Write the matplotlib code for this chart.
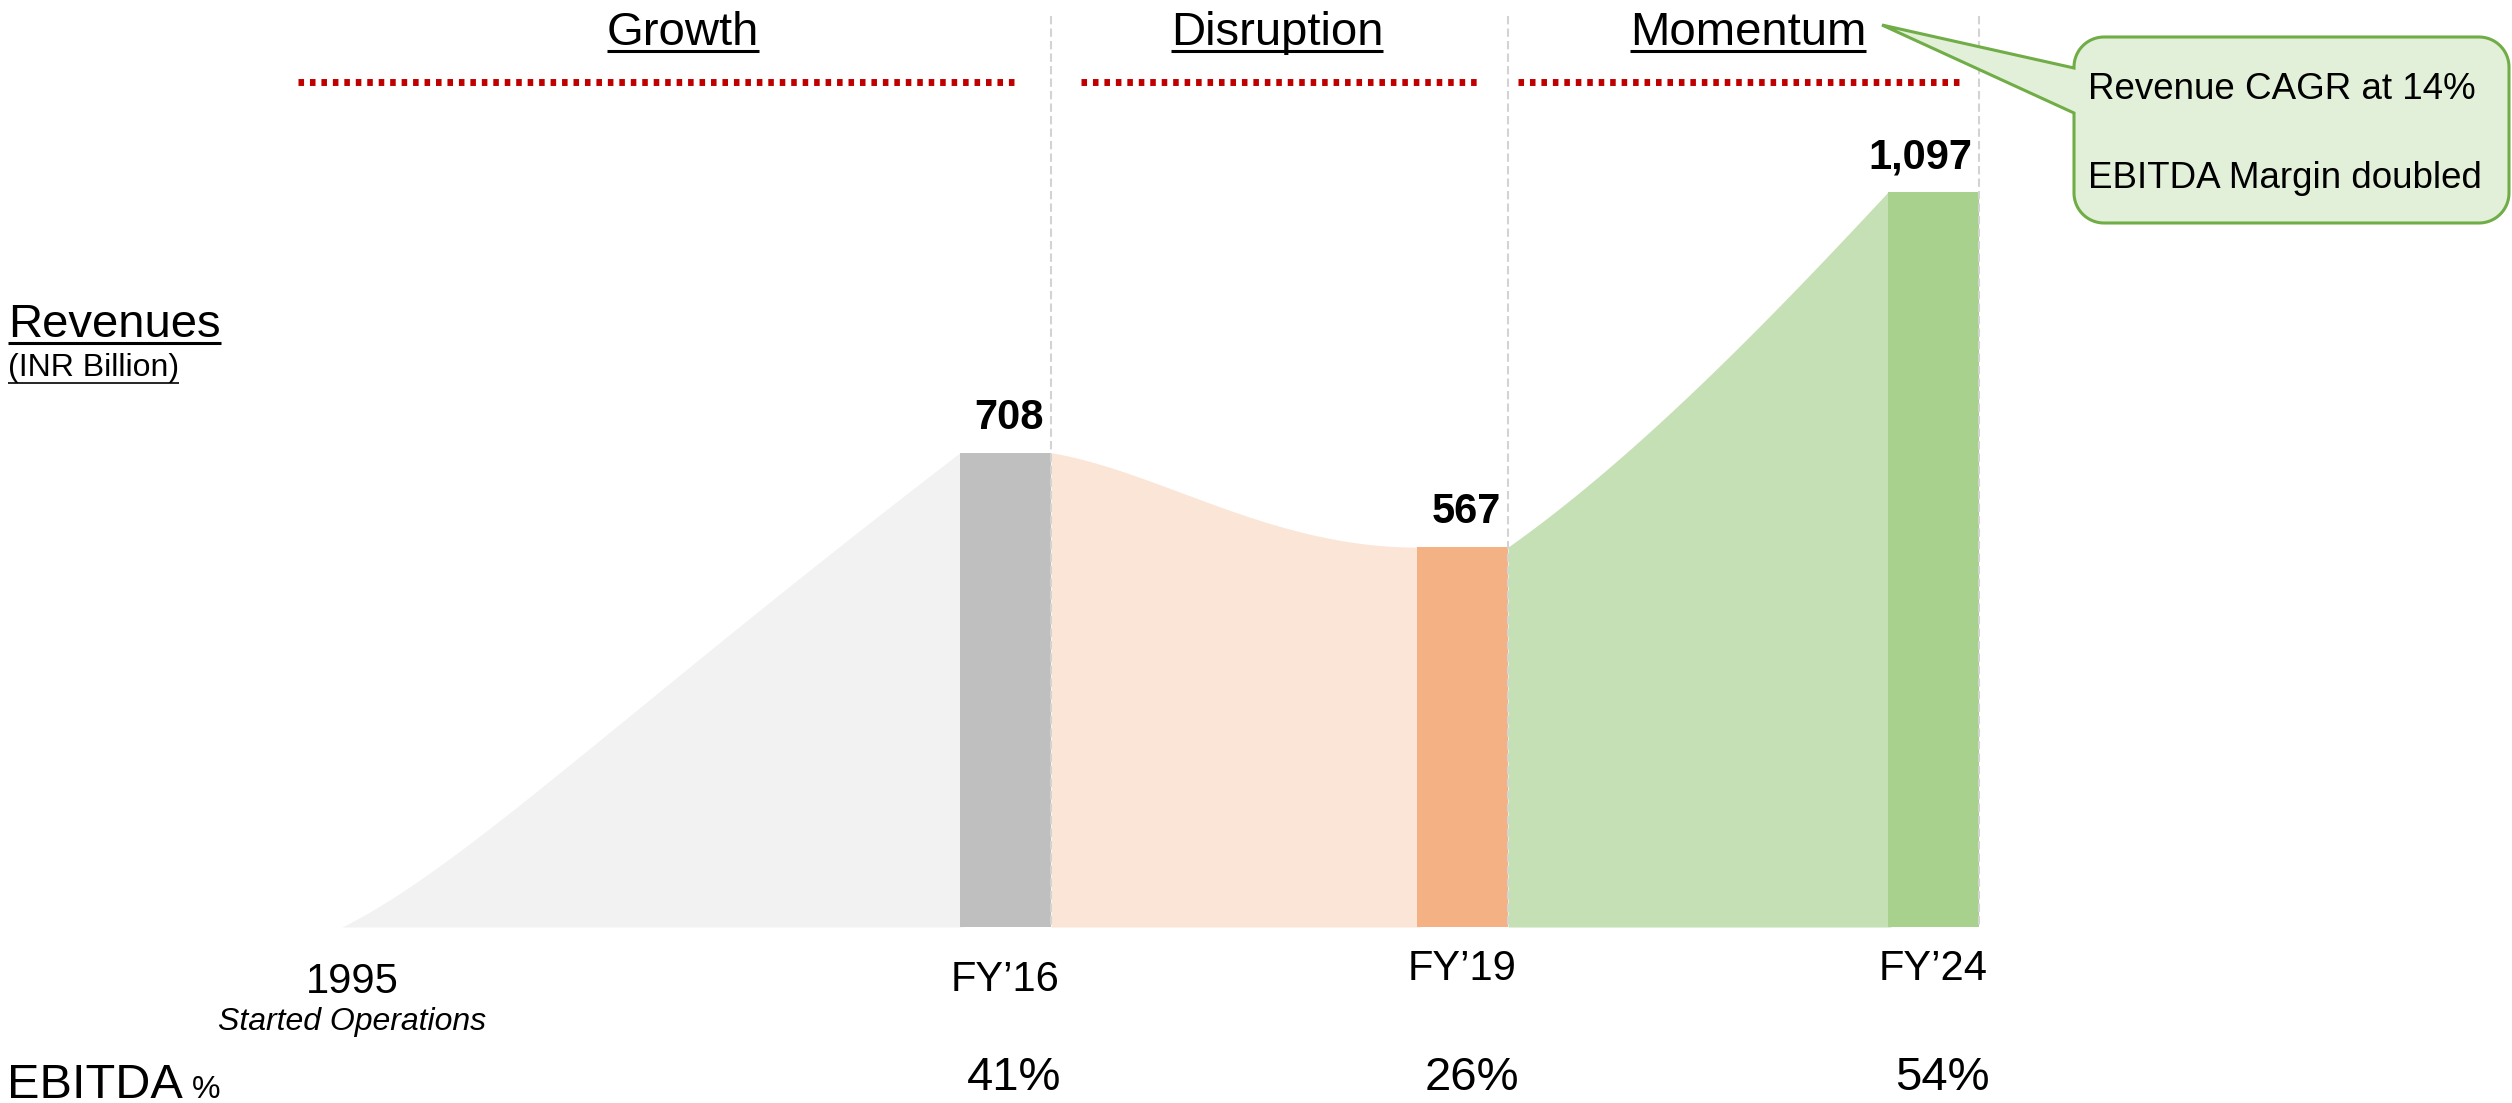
import numpy as np
import matplotlib
matplotlib.use("Agg")
import matplotlib.pyplot as plt
from matplotlib.patches import Polygon

plt.rcParams['font.family'] = ['Liberation Sans', 'DejaVu Sans']

# ---------------- data ----------------
periods = ["Growth", "Disruption", "Momentum"]
x_labels = ["1995", "FY\u201916", "FY\u201919", "FY\u201924"]
start_note = "Started Operations"
revenue = [0, 708, 567, 1097]            # INR Billion (1995 start = 0)
revenue_labels = ["708", "567", "1,097"]
ebitda_labels = ["41%", "26%", "54%"]
callout_lines = ["Revenue CAGR at 14%", "EBITDA Margin doubled"]

# ---------------- layout (pixels) ----------------
W, H = 2512, 1103
BASE = 927             # baseline pixel row
K = 0.67               # px per INR bn
start_x = 342
bar_left = [960, 1417, 1888]
bar_w = 91
bar_colors = ["#BFBFBF", "#F4B183", "#A9D18E"]
area_colors = ["#F2F2F2", "#FBE5D6", "#C5E0B4"]
# normalized bezier control points for each connecting area
area_ctrl = [((0.2, 0.13), (0.45, 0.45)),
             ((0.3, 0.2), (0.6, 1.0)),
             ((0.33, 0.25), (0.67, 0.62))]
title_cx = [683, 1277, 1748]
red_spans = [(298, 1014), (1081, 1477), (1518, 1962)]

fig = plt.figure(figsize=(W / 100, H / 100), dpi=100)
fig.patch.set_facecolor("white")

ax = fig.add_axes([0, 0, 1, 1])
ax.set_xlim(0, W)
ax.set_ylim(-(H - BASE) / K, BASE / K)
ax.axis("off")

ov = fig.add_axes([0, 0, 1, 1], zorder=5)
ov.set_xlim(0, W)
ov.set_ylim(H, 0)
ov.axis("off")
ov.patch.set_alpha(0)


def bezier(p0, p1, p2, p3, n=300):
    t = np.linspace(0, 1, n)[:, None]
    p0, p1, p2, p3 = map(np.asarray, (p0, p1, p2, p3))
    pts = ((1 - t) ** 3) * p0 + 3 * ((1 - t) ** 2) * t * p1 + 3 * (1 - t) * t ** 2 * p2 + t ** 3 * p3
    return pts[:, 0], pts[:, 1]


# connecting areas
seg_starts = [start_x] + [bl + bar_w for bl in bar_left[:-1]]
seg_ends = bar_left
for i in range(3):
    x0, x1 = seg_starts[i], seg_ends[i]
    v0, v1 = revenue[i], revenue[i + 1]
    (c1u, c1v), (c2u, c2v) = area_ctrl[i]
    dx, dv = x1 - x0, v1 - v0
    xs, ys = bezier((x0, v0), (x0 + c1u * dx, v0 + c1v * dv),
                    (x0 + c2u * dx, v0 + c2v * dv), (x1, v1))
    xs = np.append(xs, x1 + 3)
    ys = np.append(ys, v1)
    ax.fill_between(xs, 0, ys, color=area_colors[i], linewidth=0, zorder=1)

# bars
ax.bar(bar_left, revenue[1:], width=bar_w, align="edge", color=bar_colors,
       linewidth=0, zorder=2)

# value labels
for bl, v, lab in zip(bar_left, revenue[1:], revenue_labels):
    ax.annotate(lab, xy=(bl + bar_w - 7, v), xytext=(0, 17), textcoords="offset points",
                ha="right", va="baseline", fontsize=30, fontweight="bold", color="black", zorder=4)

# dashed vertical separators at bar right edges
for bl in bar_left:
    ov.plot([bl + bar_w, bl + bar_w], [16, BASE], color="#D3D3D3", lw=1.5,
            linestyle=(0, (4, 2)), zorder=3)

fig.canvas.draw()
renderer = fig.canvas.get_renderer()


def underline(t, y, lw):
    bb = t.get_window_extent(renderer)
    ov.plot([bb.x0, bb.x1], [y, y], color="black", lw=lw, solid_capstyle="butt")


# period titles
for name, cx in zip(periods, title_cx):
    t = ov.text(cx, 45, name, ha="center", va="baseline", fontsize=34, color="black")
    underline(t, 51, 2.2)

# red dotted lines
for (a, b) in red_spans:
    ov.plot([a, b], [82, 82], color="#C00000", lw=5.0, linestyle=(0, (0.8, 0.85)),
            solid_capstyle="butt", dash_capstyle="butt")

# Revenues label
t = ov.text(8, 337, "Revenues", ha="left", va="baseline", fontsize=34)
underline(t, 343, 2.2)
t = ov.text(8, 376, "(INR Billion)", ha="left", va="baseline", fontsize=23)
underline(t, 383, 1.2)

# x labels
label_x = [start_x + 10] + [bl + bar_w / 2 for bl in bar_left]
label_base = [993, 991, 980, 980]
for x, yb, lab in zip(label_x, label_base, x_labels):
    ov.text(x, yb, lab, ha="center", va="baseline", fontsize=30)
ov.text(label_x[0], 1030, start_note, ha="center", va="baseline", fontsize=23, style="italic")

# EBITDA row
t = ov.text(7, 1098, "EBITDA", ha="left", va="baseline", fontsize=35)
bb = t.get_window_extent(renderer)
ov.text(bb.x1 + 9, 1098, "%", ha="left", va="baseline", fontsize=23)
for bl, lab in zip(bar_left, ebitda_labels):
    ov.text(bl + bar_w / 2 + 9, 1090, lab, ha="center", va="baseline", fontsize=34)

# callout
l, tp, r, b, rad = 2074, 37, 2509, 223, 30
tip = (1882, 25)
p1y, p2y = 68, 113


def arc(cx, cy, a0, a1, n=20):
    a = np.linspace(a0, a1, n)
    return list(zip(cx + rad * np.cos(a), cy + rad * np.sin(a)))


verts = [(l, p1y)]
verts += arc(l + rad, tp + rad, np.pi, 1.5 * np.pi)
verts += arc(r - rad, tp + rad, 1.5 * np.pi, 2 * np.pi)
verts += arc(r - rad, b - rad, 0, 0.5 * np.pi)
verts += arc(l + rad, b - rad, 0.5 * np.pi, np.pi)
verts += [(l, p2y), tip]
ov.add_patch(Polygon(verts, closed=True, facecolor="#E2F0D9", edgecolor="#70AD47",
                     lw=2.2, joinstyle="miter", zorder=6))
ov.text(2088, 99, callout_lines[0], ha="left", va="baseline", fontsize=26.5, zorder=7)
ov.text(2088, 188, callout_lines[1], ha="left", va="baseline", fontsize=26.5, zorder=7)

fig.savefig("out.png", dpi=100, facecolor="white")
